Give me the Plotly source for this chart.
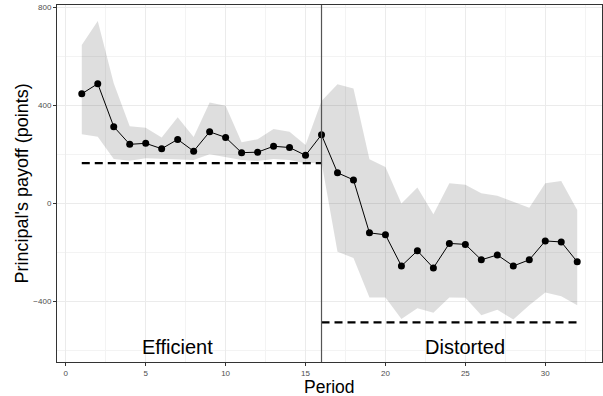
import plotly.graph_objects as go

period = list(range(1, 33))
payoff = [447, 488, 313, 241, 245, 223, 261, 213, 292, 269, 207, 209, 233, 228, 196, 280,
          125, 96, -120, -128, -255, -193, -263, -163, -167, -230, -210, -255, -230, -153, -157, -238]
upper = [646, 744, 490, 315, 309, 269, 351, 271, 411, 398, 249, 262, 303, 292, 238, 418,
         486, 469, 180, 149, 0, 65, -44, 82, 76, 41, 31, 7, -18, 82, 91, -27]
lower = [282, 272, 181, 174, 184, 180, 180, 177, 200, 189, 177, 173, 181, 177, 163, 168,
         -197, -222, -384, -384, -471, -427, -446, -384, -385, -456, -433, -473, -415, -363, -378, -415]

eff_level = 164
dist_level = -485
switch_period = 16
regime_labels = ["Efficient", "Distorted"]
regime_label_x = [7, 25]
regime_label_y = -585

y_ticks = [-400, 0, 400, 800]
x_ticks = [0, 5, 10, 15, 20, 25, 30]

W, H = 603, 396
ML, MR, MT, MB = 57, 1, 5, 34

fig = go.Figure()
fig.add_trace(go.Scatter(x=period + period[::-1], y=upper + lower[::-1], fill="toself",
                         fillcolor="rgba(0,0,0,0.13)", line=dict(width=0), mode="lines",
                         hoverinfo="skip", showlegend=False))
fig.add_trace(go.Scatter(x=[1, switch_period], y=[eff_level, eff_level], mode="lines",
                         line=dict(color="black", width=2.2, dash="8px,5px"), showlegend=False))
fig.add_trace(go.Scatter(x=[switch_period, 32], y=[dist_level, dist_level], mode="lines",
                         line=dict(color="black", width=2.2, dash="8px,5px"), showlegend=False))
fig.add_trace(go.Scatter(x=period, y=payoff, mode="lines+markers",
                         line=dict(color="black", width=1),
                         marker=dict(color="black", size=7), showlegend=False))

fig.add_shape(type="line", x0=switch_period, x1=switch_period, y0=0, y1=1, yref="paper",
              line=dict(color="#555555", width=1.2))

for lab, lx in zip(regime_labels, regime_label_x):
    fig.add_annotation(x=lx, y=regime_label_y, text=lab, showarrow=False,
                       font=dict(size=20, color="black"), xanchor="center", yanchor="middle")

pw = W - ML - MR
ph = H - MT - MB
# axis titles
fig.add_annotation(xref="paper", yref="paper", x=0.5, y=-(386.5 - (H - MB)) / ph,
                   text="Period", showarrow=False, font=dict(size=17.5, color="black"),
                   xanchor="center", yanchor="middle")
fig.add_annotation(xref="paper", yref="paper", x=(21 - ML) / pw, y=((H - MB) - 183.5) / ph,
                   text="Principal's payoff (points)", showarrow=False, textangle=-90,
                   font=dict(size=18, color="black"), xanchor="center", yanchor="middle")

font_family = "Liberation Sans, Arial, sans-serif"
fig.update_layout(
    width=W, height=H,
    margin=dict(l=ML, r=MR, t=MT, b=MB, autoexpand=False),
    plot_bgcolor="white", paper_bgcolor="white",
    font=dict(family=font_family),
    xaxis=dict(range=[-0.55, 33.55], tickvals=x_ticks, ticktext=[str(v) for v in x_ticks],
               showgrid=True, gridcolor="#EBEBEB", gridwidth=1.1, automargin=False,
               minor=dict(dtick=2.5, tick0=2.5, showgrid=True, gridcolor="#F3F3F3", gridwidth=0.6, ticks=""),
               ticks="outside", ticklen=3, tickcolor="#333333", tickfont=dict(size=8, color="#4D4D4D"),
               showline=True, linecolor="#333333", linewidth=1, mirror=True, zeroline=False),
    yaxis=dict(range=[-646.5, 809], tickvals=y_ticks, ticktext=["\u2212400", "0", "400", "800"],
               showgrid=True, gridcolor="#EBEBEB", gridwidth=1.1, automargin=False,
               minor=dict(dtick=400, tick0=-600, showgrid=True, gridcolor="#F3F3F3", gridwidth=0.6, ticks=""),
               ticks="outside", ticklen=3, tickcolor="#333333", tickfont=dict(size=8, color="#4D4D4D"),
               showline=True, linecolor="#333333", linewidth=1, mirror=True, zeroline=False),
)
fig.write_html("out.html", config={"displayModeBar": False},
               post_script="document.body.style.margin='0';document.body.style.overflow='hidden';")
